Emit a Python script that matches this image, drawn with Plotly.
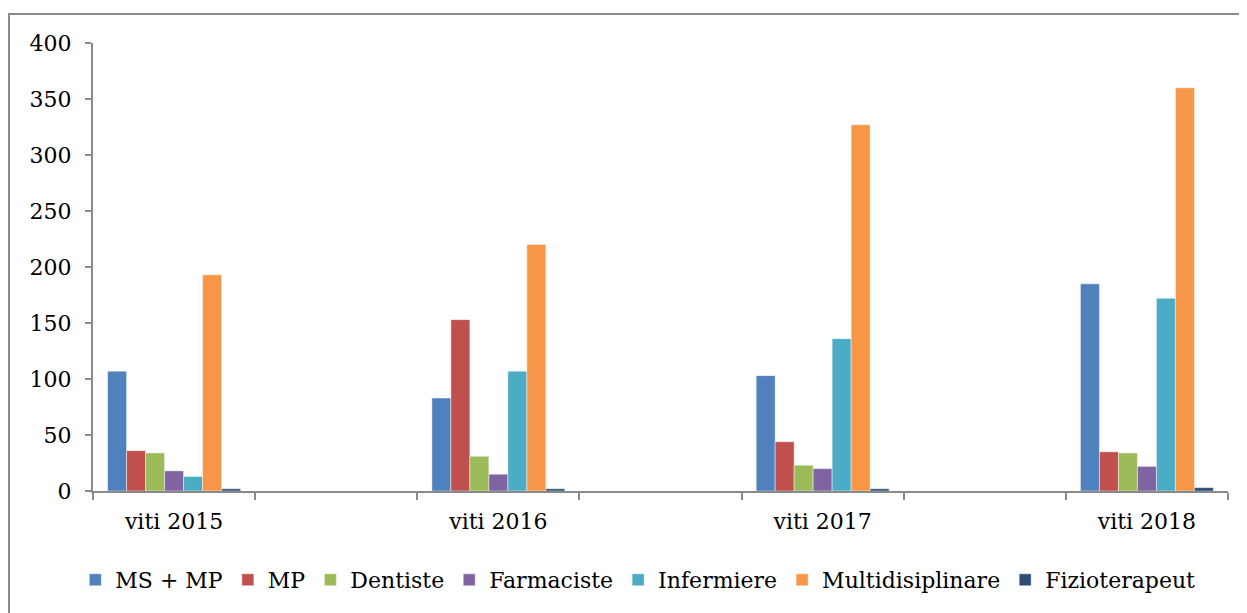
import plotly.graph_objects as go

# -------------------------------
# data
# -------------------------------
years = ["viti 2015", "viti 2016", "viti 2017", "viti 2018"]
year_pos = [0, 2, 4, 6]  # every other slot, empty slots in between

ms_mp = [107, 83, 103, 185]
mp = [36, 153, 44, 35]
dentiste = [34, 31, 23, 34]
farmaciste = [18, 15, 20, 22]
infermiere = [13, 107, 136, 172]
multidisiplinare = [193, 220, 327, 360]
fizioterapeut = [2, 2, 2, 3]

series_names = ["MS + MP", "MP", "Dentiste", "Farmaciste",
                "Infermiere", "Multidisiplinare", "Fizioterapeut"]
series_values = [ms_mp, mp, dentiste, farmaciste,
                 infermiere, multidisiplinare, fizioterapeut]
series_colors = ["#4F81BD", "#C0504D", "#9BBB59", "#8064A2",
                 "#4BACC6", "#F79646", "#2C4D75"]

y_ticks = [0, 50, 100, 150, 200, 250, 300, 350, 400]

FONT = "DejaVu Serif"
AXIS_GREY = "#8a8a8a"

# page body has an 8px margin, so the figure is sized/offset for that
W, H = 1239, 605
PLOT_L, PLOT_T, PLOT_R, PLOT_B = 85, 35, 1220, 483

fig = go.Figure()
for name, vals, color in zip(series_names, series_values, series_colors):
    fig.add_trace(go.Bar(
        x=year_pos, y=vals, name=name,
        marker=dict(color=color, line=dict(color="rgba(255,255,255,0.45)", width=1)),
    ))

fig.update_xaxes(
    range=[-0.5, 6.5],
    tickmode="array", tickvals=year_pos, ticktext=years,
    ticks="", showline=True, linecolor=AXIS_GREY, linewidth=2,
    showgrid=False, zeroline=False,
    ticklabelstandoff=10,
    minor=dict(tick0=0.5, dtick=1, ticks="outside", ticklen=7,
               tickcolor=AXIS_GREY, tickwidth=2, showgrid=False),
    tickfont=dict(family=FONT, size=22, color="black"),
    fixedrange=True,
)
fig.update_yaxes(
    range=[0, 400], tickmode="array", tickvals=y_ticks,
    ticks="outside", ticklen=6, tickcolor=AXIS_GREY, tickwidth=2,
    showline=True, linecolor=AXIS_GREY, linewidth=2,
    showgrid=False, zeroline=False,
    ticklabelstandoff=9,
    tickfont=dict(family=FONT, size=22, color="black"),
)

# outer chart border
pw, ph = PLOT_R - PLOT_L, PLOT_B - PLOT_T
fig.add_shape(type="rect", xref="paper", yref="paper",
              x0=(1 - PLOT_L) / pw, x1=(W + 5 - PLOT_L) / pw,
              y0=(PLOT_B - (H + 5)) / ph, y1=(PLOT_B - 6) / ph,
              line=dict(color=AXIS_GREY, width=2), fillcolor="rgba(0,0,0,0)")

fig.update_layout(
    width=W, height=H,
    margin=dict(l=PLOT_L, r=W - PLOT_R, t=PLOT_T, b=H - PLOT_B, autoexpand=False),
    barmode="group", bargap=0.59, bargroupgap=0,
    paper_bgcolor="white", plot_bgcolor="white",
    font=dict(family=FONT, size=22, color="black"),
    showlegend=True,
    legend=dict(orientation="h", x=0.48, xanchor="center",
                y=(PLOT_B - 572) / ph, yanchor="middle",
                font=dict(family=FONT, size=22, color="black"),
                itemwidth=30, tracegroupgap=0),
)

fig.write_html("out.html")
